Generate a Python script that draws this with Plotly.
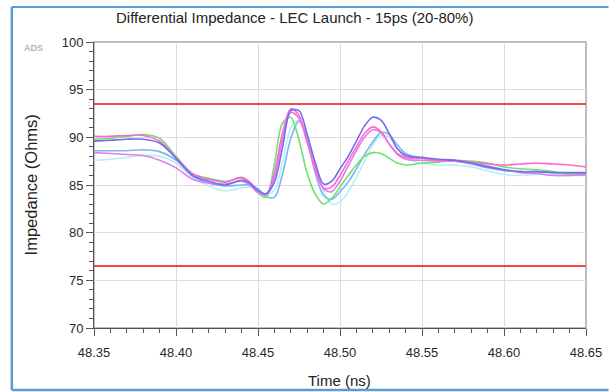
import plotly.graph_objects as go

# ---- data ----
time_ns = [48.35, 48.36, 48.37, 48.38, 48.39, 48.40, 48.41, 48.42, 48.43, 48.44,
           48.445, 48.45, 48.455, 48.46, 48.465, 48.47, 48.475, 48.48, 48.485, 48.49,
           48.495, 48.50, 48.505, 48.51, 48.515, 48.52, 48.525, 48.53, 48.535, 48.54,
           48.55, 48.56, 48.57, 48.58, 48.59, 48.60, 48.61, 48.62, 48.63, 48.64, 48.65]

z_cyan = [87.6, 87.7, 87.9, 88.1, 88.0, 87.3, 85.8, 84.9, 84.4, 84.7,
          84.8, 84.5, 84.0, 84.5, 87.5, 91.0, 91.8, 90.0, 87.0, 84.3,
          83.0, 83.2, 84.3, 85.8, 87.5, 89.2, 90.2, 90.0, 88.8, 87.8,
          87.3, 87.1, 87.1, 86.9, 86.5, 86.1, 86.0, 86.1, 86.1, 86.0, 86.0]

z_lightblue = [88.6, 88.6, 88.6, 88.7, 88.5, 87.6, 86.0, 85.2, 84.9, 85.0,
               85.0, 84.6, 83.8, 83.7, 86.2, 89.9, 91.7, 89.9, 86.2, 83.9,
               83.5, 84.3, 85.3, 86.7, 88.2, 89.5, 90.5, 90.3, 89.2, 88.3,
               87.8, 87.6, 87.5, 87.2, 86.8, 86.5, 86.4, 86.4, 86.3, 86.2, 86.2]

z_green = [89.8, 89.9, 90.1, 90.3, 89.9, 88.0, 86.2, 85.7, 85.4, 85.7,
           85.1, 84.2, 83.7, 87.2, 91.5, 92.1, 89.7, 86.2, 84.0, 83.0,
           83.6, 84.8, 86.0, 87.1, 88.0, 88.4, 88.3, 87.8, 87.3, 87.1,
           87.3, 87.4, 87.6, 87.5, 87.3, 86.9, 86.7, 86.6, 86.4, 86.1, 86.0]

z_magenta = [88.4, 88.3, 88.2, 88.1, 87.6, 86.8, 85.6, 85.2, 85.1, 85.4,
             85.0, 84.2, 84.0, 85.8, 89.8, 92.6, 92.0, 89.5, 86.8, 84.6,
             84.3, 85.4, 87.0, 88.6, 90.0, 90.8, 90.5, 89.3, 88.2, 87.7,
             87.6, 87.5, 87.5, 87.3, 87.0, 86.6, 86.3, 86.2, 86.0, 86.0, 86.1]

z_pink = [90.1, 90.1, 90.2, 90.2, 89.6, 87.9, 86.2, 85.6, 85.3, 85.8,
          85.3, 84.4, 84.0, 86.3, 90.5, 93.0, 92.3, 89.5, 86.5, 84.7,
          84.8, 86.0, 87.5, 89.0, 90.4, 91.1, 90.6, 89.3, 88.3, 87.9,
          87.8, 87.6, 87.6, 87.4, 87.2, 87.1, 87.2, 87.3, 87.2, 87.1, 86.9]

z_blue = [89.6, 89.7, 89.8, 89.8, 89.4, 87.8, 86.0, 85.4, 85.0, 85.5,
          85.2, 84.4, 84.1, 85.3, 89.0, 92.8, 92.8, 90.3, 87.3, 85.1,
          85.4, 86.7, 88.0, 89.6, 91.2, 92.1, 91.8, 90.4, 88.8, 88.1,
          87.9, 87.7, 87.6, 87.3, 86.9, 86.6, 86.4, 86.4, 86.3, 86.3, 86.3]

limit_values = [93.5, 76.5]
x_ticks = [48.35, 48.40, 48.45, 48.50, 48.55, 48.60, 48.65]
x_tick_labels = ["48.35", "48.40", "48.45", "48.50", "48.55", "48.60", "48.65"]
y_ticks = [70, 75, 80, 85, 90, 95, 100]

series = [
    ("cyan", z_cyan, "#b8eef8"),
    ("lightblue", z_lightblue, "#7cb6f2"),
    ("green", z_green, "#6fe26f"),
    ("magenta", z_magenta, "#e87ae8"),
    ("pink", z_pink, "#ff66d0"),
    ("blue", z_blue, "#6e6ef0"),
]

fig = go.Figure()
for name, vals, col in series:
    fig.add_trace(go.Scatter(x=time_ns, y=vals, mode="lines", name=name,
                             line=dict(color=col, width=1.6, shape="spline", smoothing=0.9),
                             showlegend=False, hoverinfo="skip"))

for v in limit_values:
    fig.add_trace(go.Scatter(x=[x_ticks[0], x_ticks[-1]], y=[v, v], mode="lines",
                             line=dict(color="#f04848", width=2), showlegend=False,
                             hoverinfo="skip"))

W, H = 614, 392
L, R, T, B = 94, 17, 42, 64
pw, ph = W - L - R, H - T - B

def px2paper_x(px):
    return (px - L) / pw

def py2paper_y(py):
    return (H - B - py) / ph

fig.update_layout(
    width=W, height=H,
    margin=dict(l=L, r=R, t=T, b=B),
    paper_bgcolor="white", plot_bgcolor="white",
    font=dict(family="Liberation Sans, Arial, sans-serif", color="#333333"),
    xaxis=dict(range=[48.35, 48.65], tickvals=x_ticks, ticktext=x_tick_labels,
               showgrid=True, gridcolor="#dcdcdc", gridwidth=1,
               showline=True, linecolor="#555555", linewidth=1,
               ticks="outside", ticklen=7, tickcolor="#555555",
               minor=dict(dtick=0.01, ticks="outside", ticklen=4, tickcolor="#555555", showgrid=False),
               tickfont=dict(size=13, color="#2a2a2a"), ticklabelstandoff=5, zeroline=False),
    yaxis=dict(range=[70, 100], tickvals=y_ticks,
               showgrid=True, gridcolor="#dcdcdc", gridwidth=1,
               showline=True, linecolor="#555555", linewidth=1,
               ticks="outside", ticklen=7, tickcolor="#555555",
               minor=dict(dtick=1, ticks="outside", ticklen=4, tickcolor="#555555", showgrid=False),
               tickfont=dict(size=13, color="#2a2a2a"), zeroline=False),
    shapes=[
        dict(type="rect", xref="paper", yref="paper", x0=0, x1=1, y0=0, y1=1,
             line=dict(color="#a8a8a8", width=1.5), layer="below"),
        dict(type="line", xref="paper", yref="paper",
             x0=px2paper_x(10), x1=px2paper_x(10), y0=py2paper_y(7), y1=py2paper_y(390),
             line=dict(color="#5b9bd5", width=2.5)),
        dict(type="line", xref="paper", yref="paper",
             x0=px2paper_x(10), x1=px2paper_x(620), y0=py2paper_y(7), y1=py2paper_y(7),
             line=dict(color="#5b9bd5", width=2)),
        dict(type="line", xref="paper", yref="paper",
             x0=px2paper_x(10), x1=px2paper_x(620), y0=py2paper_y(390), y1=py2paper_y(390),
             line=dict(color="#5b9bd5", width=2.5)),
    ],
    annotations=[
        dict(text="Differential Impedance - LEC Launch - 15ps (20-80%)", xref="paper", yref="paper",
             x=px2paper_x(299), y=py2paper_y(18), xanchor="center", yanchor="middle",
             showarrow=False, font=dict(size=15, color="#222222")),
        dict(text="Impedance (Ohms)", xref="paper", yref="paper", textangle=-90,
             x=px2paper_x(30), y=py2paper_y(185), xanchor="center", yanchor="middle",
             showarrow=False, font=dict(size=16.5, color="#222222")),
        dict(text="Time (ns)", xref="paper", yref="paper",
             x=px2paper_x(345), y=py2paper_y(380), xanchor="center", yanchor="middle",
             showarrow=False, font=dict(size=15, color="#222222")),
        dict(text="<b>ADS</b>", xref="paper", yref="paper",
             x=px2paper_x(32), y=py2paper_y(48), xanchor="center", yanchor="middle",
             showarrow=False, font=dict(size=9, color="#b5b5b5")),
    ],
)

fig.write_html("out.html", config={"displayModeBar": False},
               post_script="document.body.style.margin='0';document.body.style.overflow='hidden';")
